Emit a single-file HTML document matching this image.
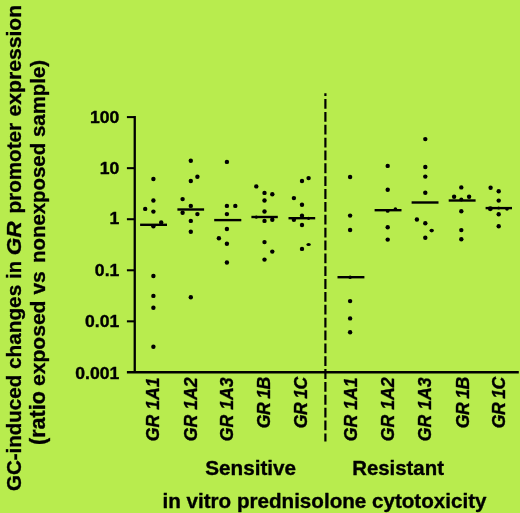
<!DOCTYPE html>
<html><head><meta charset="utf-8"><title>chart</title>
<style>
html,body{margin:0;padding:0;background:#b8ec4e;}
svg{display:block;will-change:transform;}
text{font-family:"Liberation Sans",sans-serif;font-weight:bold;fill:#000;stroke:#000;stroke-width:0.35px;stroke-linejoin:round;}
</style></head><body>
<svg width="520" height="513" viewBox="0 0 520 513">
<rect width="520" height="513" fill="#b8ec4e"/>
<g stroke="#000" fill="none">
<line x1="134.75" y1="116.1" x2="134.75" y2="373" stroke-width="2.3"/>
<line x1="126.9" y1="372.25" x2="518.8" y2="372.25" stroke-width="2.3"/>
<line x1="126.9" y1="117.10" x2="135" y2="117.10" stroke-width="2.05"/>
<line x1="126.9" y1="168.16" x2="135" y2="168.16" stroke-width="2.05"/>
<line x1="126.9" y1="219.22" x2="135" y2="219.22" stroke-width="2.05"/>
<line x1="126.9" y1="270.28" x2="135" y2="270.28" stroke-width="2.05"/>
<line x1="126.9" y1="321.34" x2="135" y2="321.34" stroke-width="2.05"/>
<line x1="325.4" y1="93.3" x2="325.4" y2="441.6" stroke-width="2.2" stroke-dasharray="9.8 3.06" stroke-dashoffset="7.1"/>
<line x1="140.1" y1="224.80" x2="167.0" y2="224.80" stroke-width="2.4"/>
<line x1="177.4" y1="209.50" x2="204.1" y2="209.50" stroke-width="2.4"/>
<line x1="214.2" y1="220.10" x2="241.3" y2="220.10" stroke-width="2.4"/>
<line x1="251.4" y1="217.00" x2="277.8" y2="217.00" stroke-width="2.4"/>
<line x1="288.5" y1="218.20" x2="315.2" y2="218.20" stroke-width="2.4"/>
<line x1="337.5" y1="277.20" x2="364.4" y2="277.20" stroke-width="2.4"/>
<line x1="374.6" y1="210.20" x2="401.5" y2="210.20" stroke-width="2.4"/>
<line x1="411.6" y1="202.50" x2="438.5" y2="202.50" stroke-width="2.4"/>
<line x1="448.7" y1="200.50" x2="475.6" y2="200.50" stroke-width="2.4"/>
<line x1="485.6" y1="208.10" x2="512.0" y2="208.10" stroke-width="2.4"/>
</g>
<g fill="#000">
<circle cx="153.4" cy="179.00" r="2.20"/>
<circle cx="153.4" cy="200.50" r="2.20"/>
<circle cx="145.2" cy="208.90" r="2.20"/>
<circle cx="153.4" cy="211.60" r="2.20"/>
<circle cx="161.2" cy="222.50" r="2.20"/>
<circle cx="153.4" cy="226.30" r="2.20"/>
<circle cx="153.4" cy="276.00" r="2.20"/>
<circle cx="153.4" cy="295.90" r="2.20"/>
<circle cx="153.4" cy="307.80" r="2.20"/>
<circle cx="153.4" cy="346.80" r="2.20"/>
<circle cx="190.8" cy="160.70" r="2.20"/>
<circle cx="197.4" cy="176.70" r="2.20"/>
<circle cx="190.8" cy="181.00" r="2.20"/>
<circle cx="182.6" cy="199.10" r="2.20"/>
<circle cx="190.8" cy="205.90" r="2.20"/>
<circle cx="182.6" cy="212.80" r="2.20"/>
<circle cx="197.4" cy="214.10" r="2.20"/>
<circle cx="190.8" cy="220.90" r="2.20"/>
<circle cx="190.8" cy="231.70" r="2.20"/>
<circle cx="190.8" cy="297.30" r="2.20"/>
<circle cx="226.9" cy="161.90" r="2.20"/>
<circle cx="226.9" cy="205.90" r="2.20"/>
<circle cx="235.3" cy="205.90" r="2.20"/>
<circle cx="226.9" cy="214.10" r="2.20"/>
<circle cx="226.9" cy="229.00" r="2.20"/>
<circle cx="218.9" cy="238.20" r="2.20"/>
<circle cx="226.9" cy="243.80" r="2.20"/>
<circle cx="226.9" cy="262.50" r="2.20"/>
<circle cx="256.3" cy="186.40" r="2.20"/>
<circle cx="264.5" cy="192.90" r="2.20"/>
<circle cx="272.3" cy="194.20" r="2.20"/>
<circle cx="264.5" cy="200.50" r="2.20"/>
<circle cx="264.5" cy="211.50" r="2.20"/>
<circle cx="256.3" cy="217.10" r="1.70"/>
<circle cx="264.5" cy="220.90" r="2.20"/>
<circle cx="272.3" cy="219.80" r="2.20"/>
<circle cx="264.5" cy="242.10" r="2.20"/>
<circle cx="272.3" cy="251.60" r="2.20"/>
<circle cx="264.5" cy="259.60" r="2.20"/>
<circle cx="308.6" cy="178.10" r="2.20"/>
<circle cx="302.0" cy="181.00" r="2.20"/>
<circle cx="293.9" cy="198.10" r="2.20"/>
<circle cx="302.0" cy="204.80" r="2.20"/>
<circle cx="302.0" cy="215.70" r="2.20"/>
<circle cx="293.9" cy="219.70" r="2.20"/>
<circle cx="308.6" cy="218.30" r="1.60"/>
<circle cx="302.0" cy="225.00" r="2.20"/>
<ellipse cx="308.6" cy="244.40" rx="2.20" ry="1.50"/>
<circle cx="302.0" cy="248.90" r="2.20"/>
<circle cx="350.1" cy="177.00" r="2.20"/>
<circle cx="350.1" cy="215.60" r="2.20"/>
<circle cx="350.1" cy="230.00" r="2.20"/>
<circle cx="350.1" cy="277.20" r="1.80"/>
<circle cx="350.1" cy="301.10" r="2.20"/>
<circle cx="350.1" cy="318.40" r="2.20"/>
<circle cx="350.1" cy="332.30" r="2.20"/>
<circle cx="387.7" cy="165.90" r="2.20"/>
<circle cx="387.7" cy="189.80" r="2.20"/>
<circle cx="395.4" cy="209.00" r="1.80"/>
<circle cx="387.7" cy="210.90" r="1.90"/>
<circle cx="387.7" cy="227.30" r="2.20"/>
<circle cx="387.7" cy="239.60" r="2.20"/>
<circle cx="425.3" cy="139.10" r="2.20"/>
<circle cx="425.3" cy="167.00" r="2.20"/>
<circle cx="425.3" cy="176.60" r="2.20"/>
<circle cx="425.3" cy="192.70" r="2.20"/>
<circle cx="416.9" cy="219.50" r="2.20"/>
<circle cx="425.3" cy="223.20" r="2.20"/>
<ellipse cx="431.7" cy="230.60" rx="2.20" ry="1.80"/>
<circle cx="425.3" cy="237.80" r="2.20"/>
<circle cx="461.3" cy="187.40" r="2.20"/>
<circle cx="454.1" cy="196.80" r="2.20"/>
<circle cx="469.1" cy="196.80" r="2.20"/>
<circle cx="461.3" cy="199.50" r="2.00"/>
<circle cx="461.3" cy="211.20" r="2.20"/>
<circle cx="461.3" cy="230.10" r="2.20"/>
<circle cx="461.3" cy="239.30" r="2.20"/>
<circle cx="490.6" cy="187.70" r="2.20"/>
<circle cx="498.7" cy="191.30" r="2.20"/>
<circle cx="498.7" cy="200.60" r="2.20"/>
<circle cx="490.3" cy="208.70" r="2.45"/>
<circle cx="498.7" cy="208.10" r="1.50"/>
<circle cx="507.0" cy="208.90" r="1.80"/>
<circle cx="498.7" cy="214.20" r="2.20"/>
<circle cx="498.7" cy="226.20" r="2.20"/>
</g>
<text transform="translate(119.3,122.5) scale(1.1,1)" font-size="16" text-anchor="end">100</text>
<text transform="translate(119.3,174.2) scale(1.1,1)" font-size="16" text-anchor="end">10</text>
<text transform="translate(119.3,224.4) scale(1.1,1)" font-size="16" text-anchor="end">1</text>
<text transform="translate(119.3,276.1) scale(1.1,1)" font-size="16" text-anchor="end">0.1</text>
<text transform="translate(119.3,327.1) scale(1.1,1)" font-size="16" text-anchor="end">0.01</text>
<text transform="translate(119.3,378.6) scale(1.1,1)" font-size="16" text-anchor="end">0.001</text>
<text transform="translate(159.1,377.5) rotate(-90) scale(1,1.05)" font-size="17.65" font-style="italic" text-anchor="end">GR 1A1</text>
<text transform="translate(197.0,377.5) rotate(-90) scale(1,1.05)" font-size="17.65" font-style="italic" text-anchor="end">GR 1A2</text>
<text transform="translate(232.8,377.5) rotate(-90) scale(1,1.05)" font-size="17.65" font-style="italic" text-anchor="end">GR 1A3</text>
<text transform="translate(270.1,377.5) rotate(-90) scale(1,1.05)" font-size="17.65" font-style="italic" text-anchor="end" letter-spacing="-0.65">GR 1B</text>
<text transform="translate(307.0,377.5) rotate(-90) scale(1,1.05)" font-size="17.65" font-style="italic" text-anchor="end" letter-spacing="-0.65">GR 1C</text>
<text transform="translate(357.4,377.5) rotate(-90) scale(1,1.05)" font-size="17.65" font-style="italic" text-anchor="end">GR 1A1</text>
<text transform="translate(393.9,377.5) rotate(-90) scale(1,1.05)" font-size="17.65" font-style="italic" text-anchor="end">GR 1A2</text>
<text transform="translate(430.7,377.5) rotate(-90) scale(1,1.05)" font-size="17.65" font-style="italic" text-anchor="end">GR 1A3</text>
<text transform="translate(468.5,377.5) rotate(-90) scale(1,1.05)" font-size="17.65" font-style="italic" text-anchor="end" letter-spacing="-0.65">GR 1B</text>
<text transform="translate(505.1,377.5) rotate(-90) scale(1,1.05)" font-size="17.65" font-style="italic" text-anchor="end" letter-spacing="-0.65">GR 1C</text>
<text transform="translate(205.2,474.5) scale(1.035,1)" font-size="20">Sensitive</text>
<text transform="translate(352.2,474.5) scale(1.019,1)" font-size="20">Resistant</text>
<text transform="translate(162.5,507.6) scale(1.031,1)" font-size="20">in vitro prednisolone cytotoxicity</text>
<text transform="translate(21.4,491.00) rotate(-90) scale(1,0.980)" font-size="20.52">GC-induced</text>
<text transform="translate(21.4,369.00) rotate(-90) scale(1,0.980)" font-size="20.77">changes</text>
<text transform="translate(21.4,278.94) rotate(-90) scale(1,0.980)" font-size="20.21">in</text>
<text transform="translate(21.4,255.20) rotate(-90) scale(1,0.906)" font-size="22.60" font-style="italic">GR</text>
<text transform="translate(21.4,213.51) rotate(-90) scale(1,0.980)" font-size="20.66">promoter</text>
<text transform="translate(21.4,116.52) rotate(-90) scale(1,0.980)" font-size="21.17">expression</text>
<text transform="translate(44.8,445.03) rotate(-90) scale(1,0.98)" font-size="21.62">(ratio</text>
<text transform="translate(44.8,386.00) rotate(-90) scale(1,0.98)" font-size="21.07">exposed</text>
<text transform="translate(44.8,294.53) rotate(-90) scale(1,0.98)" font-size="20.94">vs</text>
<text transform="translate(44.8,262.98) rotate(-90) scale(1,0.98)" font-size="20.40">nonexposed</text>
<text transform="translate(44.8,136.99) rotate(-90) scale(1,0.98)" font-size="20.40">sample)</text>
</svg>
</body></html>
